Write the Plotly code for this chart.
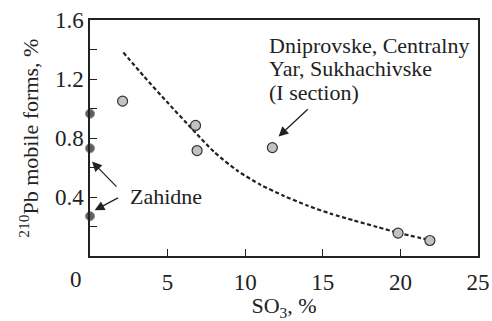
import plotly.graph_objects as go

# SO3 content (%) and 210Pb mobile forms (%)
so3_main = [2.1, 6.8, 6.9, 11.75, 19.85, 21.9]
pb_main = [1.05, 0.885, 0.715, 0.735, 0.155, 0.105]

# Zahidne samples
so3_zahidne = [0.0, 0.0, 0.0]
pb_zahidne = [0.965, 0.73, 0.27]

# Trend line (dashed), values along the curve
trend_x = [2.15, 3.5, 5.0, 6.5, 8.0, 9.5, 11.0, 12.5, 14.0, 15.5, 17.0, 18.5, 19.9, 21.8]
trend_y = [1.38, 1.215, 1.04, 0.87, 0.705, 0.578, 0.482, 0.407, 0.342, 0.287, 0.241, 0.197, 0.156, 0.11]

x_ticks = [5, 10, 15, 20, 25]
y_ticks = [0.4, 0.8, 1.2, 1.6]
y_minor = [0.2, 0.6, 1.0, 1.4]

FONT = "Liberation Serif, Times New Roman, serif"
INK = "#222222"

fig = go.Figure()

fig.add_trace(go.Scatter(
    x=trend_x, y=trend_y, mode="lines",
    line=dict(color=INK, width=2.2, dash="4px,2.5px", shape="spline", smoothing=0.6),
    hoverinfo="skip",
))
fig.add_trace(go.Scatter(
    x=so3_main, y=pb_main, mode="markers",
    marker=dict(size=10, color="#c2c2c2", line=dict(color="#333333", width=1.2)),
    cliponaxis=False,
))
fig.add_trace(go.Scatter(
    x=so3_zahidne, y=pb_zahidne, mode="markers",
    marker=dict(size=9, color="#5e5e5e", line=dict(color="#8a8a8a", width=1)),
    cliponaxis=False,
))

annotations = []
# Zahidne label and arrows
annotations.append(dict(x=2.45, y=0.405, xref="x", yref="y", text="Zahidne",
                        showarrow=False, xanchor="left", yanchor="middle",
                        font=dict(family=FONT, size=22, color=INK)))
for (hx, hy, tx, ty) in [(0.13, 0.64, 1.8, 0.46), (0.3, 0.31, 1.9, 0.40)]:
    annotations.append(dict(x=hx, y=hy, ax=tx, ay=ty, xref="x", yref="y",
                            axref="x", ayref="y", text="", showarrow=True,
                            arrowhead=2, arrowsize=1.5, arrowwidth=1.3,
                            arrowcolor=INK))
# Dniprovske label (three lines) and arrow
for i, line in enumerate(["Dniprovske, Centralny", "Yar, Sukhachivske", "(I section)"]):
    annotations.append(dict(x=11.4, y=1.425 - i * 0.157, xref="x", yref="y",
                            text=line, showarrow=False, xanchor="left",
                            yanchor="middle",
                            font=dict(family=FONT, size=22, color=INK)))
annotations.append(dict(x=12.15, y=0.81, ax=14.13, ay=1.005, xref="x", yref="y",
                        axref="x", ayref="y", text="", showarrow=True,
                        arrowhead=2, arrowsize=1.5, arrowwidth=1.3,
                        arrowcolor=INK))
# "0" label at the origin, set slightly left of the corner
annotations.append(dict(x=-0.036, y=-0.10, xref="paper", yref="paper", text="0",
                        showarrow=False, xanchor="center", yanchor="middle",
                        font=dict(family=FONT, size=23, color=INK)))
# Y-axis title
annotations.append(dict(x=-0.158, y=0.5, xref="paper", yref="paper",
                        text="<sup>210</sup>Pb mobile forms, %", textangle=-90,
                        showarrow=False, xanchor="center", yanchor="middle",
                        font=dict(family=FONT, size=22, color=INK)))

fig.update_layout(
    width=492, height=321,
    margin=dict(l=90, r=14, t=20, b=65),
    paper_bgcolor="white", plot_bgcolor="white",
    showlegend=False,
    font=dict(family=FONT, size=22, color=INK),
    annotations=annotations,
    xaxis=dict(
        range=[0, 25], tickvals=x_ticks, ticktext=[str(v) for v in x_ticks],
        ticks="inside", ticklen=7, tickwidth=1.2, tickcolor=INK,
        ticklabelstandoff=5, automargin=False,
        showline=True, linecolor=INK, linewidth=1.5, mirror=True,
        showgrid=False, zeroline=False,
        tickfont=dict(family=FONT, size=23, color=INK),
        title=dict(text="SO<sub>3</sub>, %",
                   font=dict(family=FONT, size=22, color=INK)),
    ),
    yaxis=dict(
        range=[0, 1.6], tickvals=y_ticks, ticktext=["0.4", "0.8", "1.2", "1.6"],
        ticks="inside", ticklen=7, tickwidth=1.2, tickcolor=INK,
        automargin=False,
        minor=dict(tickvals=y_minor, ticks="inside", ticklen=7, tickwidth=1.2,
                   tickcolor=INK),
        showline=True, linecolor=INK, linewidth=1.5, mirror=True,
        showgrid=False, zeroline=False,
        tickfont=dict(family=FONT, size=23, color=INK),
    ),
)

fig.write_html("out.html")
